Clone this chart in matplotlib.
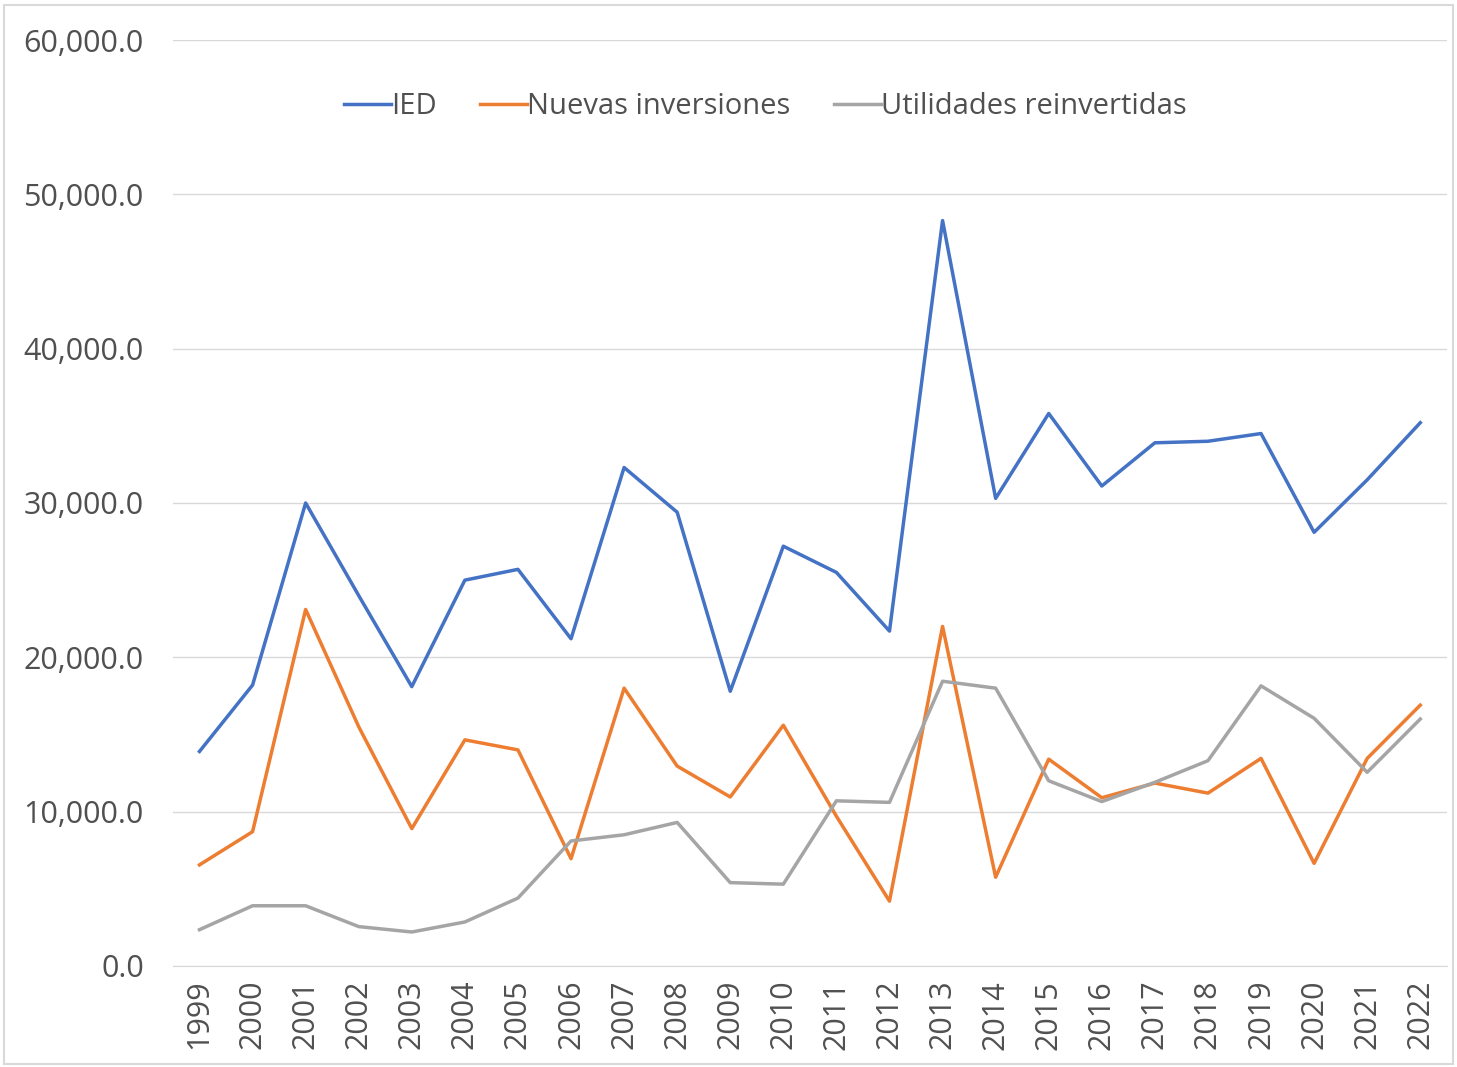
import numpy as np
import matplotlib.pyplot as plt
from matplotlib.ticker import FuncFormatter

years = [str(y) for y in range(1999, 2023)]
ied = [13900, 18200, 30000, 24000, 18100, 25000, 25700, 21200, 32300, 29400,
       17800, 27200, 25500, 21700, 48300, 30300, 35800, 31100, 33900, 34000,
       34500, 28100, 31500, 35200]
nuevas = [6550, 8700, 23100, 15500, 8900, 14650, 14000, 6950, 18000, 12950,
          10950, 15600, 9700, 4200, 22000, 5750, 13400, 10900, 11850, 11200,
          13450, 6650, 13450, 16900]
utilidades = [2350, 3900, 3900, 2550, 2200, 2850, 4400, 8100, 8500, 9300,
              5400, 5300, 10700, 10600, 18450, 18000, 12000, 10650, 11900, 13300,
              18150, 16050, 12550, 16000]

plt.rcParams['font.family'] = ['Open Sans', 'DejaVu Sans']

fig = plt.figure(figsize=(14.57, 10.67), dpi=100)
ax = fig.add_axes([0.1187, 0.0947, 0.8743, 0.8678])

x = np.arange(len(years))
ax.plot(x, ied, color='#4472C4', lw=2.5, label='IED')
ax.plot(x, nuevas, color='#ED7D31', lw=2.5, label='Nuevas inversiones')
ax.plot(x, utilidades, color='#A5A5A5', lw=2.5, label='Utilidades reinvertidas')

ax.set_xlim(-0.5, len(years) - 0.5)
ax.set_ylim(0, 60000)
ax.set_yticks(np.arange(0, 60001, 10000))
ax.yaxis.set_major_formatter(FuncFormatter(lambda v, p: f'{v:,.1f}'))
ax.set_xticks(x)
ax.set_xticklabels(years, rotation=90)
ax.tick_params(axis='both', length=0, labelsize=22, labelcolor='#505050')
ax.tick_params(axis='y', pad=21)
ax.tick_params(axis='x', pad=10)
ax.grid(axis='y', color='#D9D9D9', lw=1)
ax.set_axisbelow(True)
for s in ['top', 'right', 'left']:
    ax.spines[s].set_visible(False)
ax.spines['bottom'].set_color('#D9D9D9')

leg = ax.legend(loc='upper center', bbox_to_anchor=(0.465, 0.972), ncol=3, frameon=False,
                fontsize=21, handlelength=1.6, handletextpad=0.0, columnspacing=1.5)
for t in leg.get_texts():
    t.set_color('#505050')

fig.patches.append(plt.Rectangle((0.003, 0.003), 0.994, 0.992, transform=fig.transFigure,
                                 fill=False, edgecolor='#D9D9D9', lw=1.5))

fig.savefig('out.png', dpi=100)
